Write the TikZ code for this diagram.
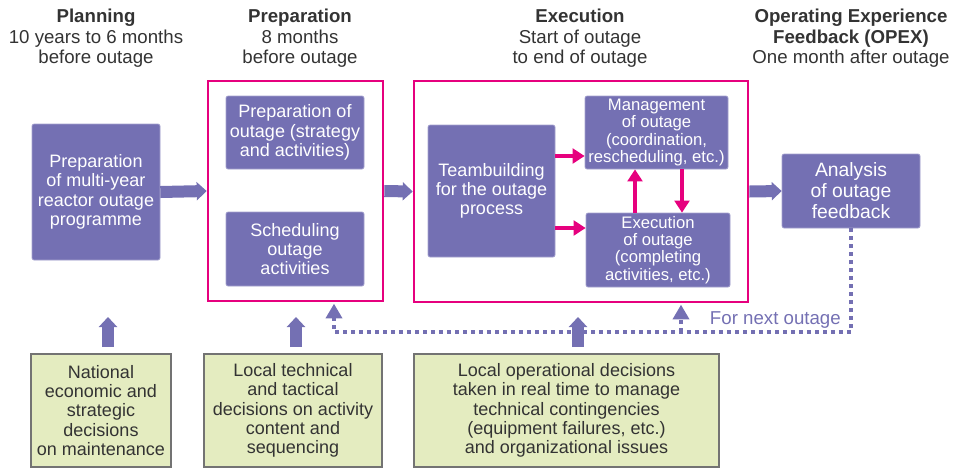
\documentclass[tikz,border=0pt]{standalone}
\usepackage{fontspec}
\setmainfont{Liberation Sans}
\usepackage{xcolor}
\usepackage{tikz}
\usetikzlibrary{arrows.meta,positioning}

\definecolor{outpurple}{HTML}{7470B3}
\definecolor{outpink}{HTML}{E6007E}
\definecolor{outgreen}{HTML}{E4ECC0}
\definecolor{outtext}{HTML}{333333}

\begin{document}
\begin{tikzpicture}[
    x=0.75pt, y=-0.75pt,
    task/.style={rectangle, rounded corners=1.5pt, draw=outpurple!65!white, line width=0.5pt,
                 fill=outpurple, text=white, align=center, inner sep=1pt,
                 font=\fontsize{13.5}{14.5}\selectfont},
    frame/.style={rectangle, draw=outpink, line width=2pt},
    decision/.style={rectangle, draw=gray!90!black, line width=0.8pt, fill=outgreen,
                     text=outtext, align=center, inner sep=1pt,
                     font=\fontsize{13.5}{14.5}\selectfont},
    title/.style={align=center, text=outtext, font=\fontsize{14}{15.5}\selectfont},
    fat/.style={draw=outpurple, line width=9pt, -{Triangle[width=13.5pt,length=7.5pt]}},
    link/.style={draw=outpink, line width=2.5pt, -{Triangle[width=11pt,length=9pt]}},
    fb/.style={draw=outpurple, line width=2.6pt, dash pattern=on 3pt off 3pt,
               -{Triangle[width=12pt,length=11pt]}, shorten >=1pt},
]
\useasboundingbox (0,0) rectangle (963,469);

% phase headings
\node[title] (plantitle) at (96,38.5) {\textbf{Planning}\\10 years to 6 months\\before outage};
\node[title] (preptitle) at (300,38.5) {\textbf{Preparation}\\8 months\\before outage};
\node[title] (exectitle) at (580,38.5) {\textbf{Execution}\\Start of outage\\to end of outage};
\node[title] (opextitle) at (851,38.5) {\textbf{Operating Experience}\\\textbf{Feedback (OPEX)}\\One month after outage};

% planning
\node[task, minimum width=96pt, minimum height=102pt] (plan) at (96,192)
  {Preparation\\of multi-year\\reactor outage\\programme};

% preparation
\node[frame, minimum width=131.25pt, minimum height=165pt] (prepframe) at (295.5,191) {};
\node[task, minimum width=103.5pt, minimum height=54.75pt] (prepstrat) at (295,132.5)
  {Preparation of\\outage (strategy\\and activities)};
\node[task, minimum width=103.5pt, minimum height=55.5pt] (prepsched) at (295,249)
  {Scheduling\\outage\\activities};

% execution
\node[frame, minimum width=250.5pt, minimum height=165.75pt] (execframe) at (581,191.5) {};
\node[task, minimum width=95.25pt, minimum height=99pt] (team) at (491.5,191)
  {Teambuilding\\for the outage\\process};
\node[task, minimum width=107.25pt, minimum height=54.75pt,
      font=\fontsize{12.5}{13}\selectfont] (mgmt) at (656.5,132.5)
  {Management\\of outage\\(coordination,\\rescheduling, etc.)};
\node[task, minimum width=108pt, minimum height=55.5pt,
      font=\fontsize{12.5}{13}\selectfont] (exec) at (658,250)
  {Execution\\of outage\\(completing\\activities, etc.)};

% feedback
\node[task, minimum width=103.5pt, minimum height=55.5pt,
      font=\fontsize{14.5}{15.75}\selectfont] (anal) at (851,191)
  {Analysis\\of outage\\feedback};

% decision levels
\node[decision, minimum width=105pt, minimum height=84.75pt] (natdec) at (101,410.5)
  {National\\economic and\\strategic\\decisions\\on maintenance};
\node[decision, minimum width=133.5pt, minimum height=84.75pt] (techdec) at (293,410.5)
  {Local technical\\and tactical\\decisions on activity\\content and\\sequencing};
\node[decision, minimum width=228.75pt, minimum height=84.75pt] (opdec) at (566.5,410.5)
  {Local operational decisions\\taken in real time to manage\\technical contingencies\\(equipment failures, etc.)\\and organizational issues};

% main flow
\draw[fat] (plan.east) -- (prepframe.west);
\draw[fat] (prepframe.east) -- (execframe.west);
\draw[fat] (execframe.east) -- (anal.west);

% inside execution
\draw[link] (team.east |- 0,156) -- (mgmt.west |- 0,156);
\draw[link] (team.east |- 0,228) -- (exec.west |- 0,228);
\draw[link] (exec.north -| 635,0) -- (mgmt.south -| 635,0);
\draw[link] (mgmt.south -| 682,0) -- (exec.north -| 682,0);

% decisions feeding the phases
\coordinate (natbase) at (108,347);
\coordinate (nattip) at (108,317);
\coordinate (techbase) at (296,347);
\coordinate (techtip) at (296,317);
\coordinate (opbase) at (578,347);
\coordinate (optip) at (578,317);
\draw[fat] (natbase) -- (nattip);
\draw[fat] (techbase) -- (techtip);
\draw[fat] (opbase) -- (optip);

% loop back for next outage
\coordinate (fbleft) at (334,332);
\coordinate (fbmid) at (681,332);
\draw[fb] (anal.south) |- (fbleft) -- (fbleft |- prepframe.south);
\draw[fb] (fbmid) -- (fbmid |- execframe.south);
\node[anchor=base east, text=outpurple, font=\fontsize{14}{15}\selectfont, inner sep=0pt]
  (nextlbl) at (841,324) {For next outage};
\end{tikzpicture}
\end{document}
